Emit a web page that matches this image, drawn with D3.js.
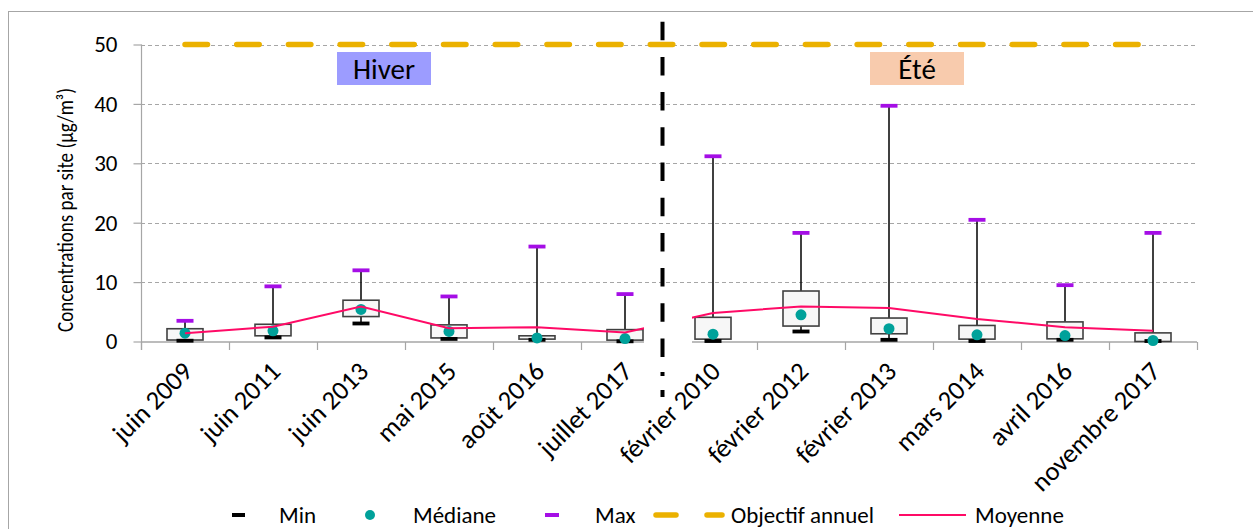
<!DOCTYPE html>
<html>
<head>
<meta charset="utf-8">
<script src="https://cdn.jsdelivr.net/npm/d3@7/dist/d3.min.js"></script>
<style>
  html, body { margin: 0; padding: 0; background: #fff; }
  svg { display: block; }
  text { font-family: Carlito, Calibri, Lato, sans-serif; fill: #000; }
</style>
</head>
<body>
<svg id="chart" width="1253" height="529"></svg>
<script>
const categories = ["juin 2009","juin 2011","juin 2013","mai 2015","août 2016","juillet 2017",
                    "février 2010","février 2012","février 2013","mars 2014","avril 2016","novembre 2017"];
const minValues    = [0.15, 0.7, 3.05, 0.45, 0.3, 0.05, 0.1, 1.7, 0.3, 0.1, 0.3, 0.1];
const q1Values     = [0.25, 0.96, 4.2, 0.6, 0.4, 0.23, 0.4, 2.6, 1.3, 0.4, 0.45, 0.0];
const medianValues = [1.4, 1.8, 5.4, 1.7, 0.6, 0.5, 1.24, 4.5, 2.15, 1.13, 1.0, 0.17];
const q3Values     = [2.15, 2.9, 6.95, 2.8, 0.96, 2.0, 4.07, 8.5, 3.95, 2.7, 3.3, 1.45];
const maxValues    = [3.5, 9.3, 12.0, 7.6, 16.0, 8.0, 31.2, 18.3, 39.7, 20.5, 9.5, 18.3];
const meanValues   = [1.4, 2.5, 5.9, 2.25, 2.4, 1.5, 4.8, 5.9, 5.65, 3.8, 2.4, 1.8];
const objectifValue = 50;
const yTicks = [0, 10, 20, 30, 40, 50];
const legendLabels = ["Min", "Médiane", "Max", "Objectif annuel", "Moyenne"];
const seasonLabels = ["Hiver", "Été"];

const C = {
  min: "#000000", median: "#00a19a", max: "#a50ee6", obj: "#ebb100", mean: "#ff0a66",
  grid: "#a6a6a6", axis: "#a6a6a6", boxStroke: "#404040", boxFill: "#f7f7f7",
  hiver: "#9c9cff", ete: "#f8cbad"
};

const svg = d3.select("#chart");

// outer frame
svg.append("rect").attr("x", 8.5).attr("y", 11.5).attr("width", 1400).attr("height", 700)
  .attr("fill", "none").attr("stroke", "#a6a6a6").attr("stroke-width", 1);

const x = d3.scaleBand().domain(categories).range([141, 1197]).padding(0);
const y = d3.scaleLinear().domain([0, 50]).range([341.5, 44.5]);
const cx = c => x(c) + x.bandwidth() / 2;

// gridlines
svg.append("g").selectAll("line").data(yTicks.filter(d => d > 0)).join("line")
  .attr("x1", 141).attr("x2", 1197)
  .attr("y1", d => Math.round(y(d)) + 0.5).attr("y2", d => Math.round(y(d)) + 0.5)
  .attr("stroke", C.grid).attr("stroke-width", 1.2).attr("stroke-dasharray", "4,3");

// y axis
const yAxis = d3.axisLeft(y).tickValues(yTicks).tickSize(8).tickPadding(16);
const gy = svg.append("g").attr("transform", "translate(141.5,0)").call(yAxis);
gy.select(".domain").remove();
gy.selectAll(".tick line").attr("stroke", C.axis).attr("stroke-width", 1.2);
gy.selectAll(".tick text").attr("font-size", 23).attr("fill", "#000")
  .style("font-family", "Carlito, Calibri, Lato, sans-serif");
svg.append("line").attr("x1", 141.5).attr("x2", 141.5).attr("y1", y(50)).attr("y2", 350)
  .attr("stroke", C.axis).attr("stroke-width", 1.2);

// x axis
svg.append("line").attr("x1", 141).attr("x2", 1197).attr("y1", 342).attr("y2", 342)
  .attr("stroke", C.axis).attr("stroke-width", 1.5);
const boundaries = categories.map(c => x(c)).concat([x(categories[categories.length - 1]) + x.bandwidth()]);
svg.append("g").selectAll("line").data(boundaries).join("line")
  .attr("x1", d => Math.round(d) + 0.5).attr("x2", d => Math.round(d) + 0.5)
  .attr("y1", 342).attr("y2", 350).attr("stroke", C.axis).attr("stroke-width", 1.2);

// x tick labels
svg.append("g").selectAll("text").data(categories).join("text")
  .attr("transform", d => `translate(${cx(d) + 9},${373}) rotate(-45)`)
  .attr("text-anchor", "end").attr("font-size", 26.5).text(d => d);

// y axis title
svg.append("text").attr("transform", "translate(73,210) rotate(-90)")
  .attr("text-anchor", "middle").attr("font-size", 22)
  .attr("textLength", 244).attr("lengthAdjust", "spacingAndGlyphs")
  .text("Concentrations par site (µg/m³)");

// objectif line
svg.append("path")
  .attr("d", d3.line()(categories.map(c => [cx(c), y(objectifValue)])))
  .attr("fill", "none").attr("stroke", C.obj).attr("stroke-width", 5.5)
  .attr("stroke-linecap", "round").attr("stroke-dasharray", "22.5,29.2");

// boxes
const bw = 36, mw = 17;
const g = svg.append("g");
categories.forEach((c, i) => {
  const xc = cx(c);
  g.append("line").attr("x1", xc).attr("x2", xc).attr("y1", y(q3Values[i])).attr("y2", y(maxValues[i]))
    .attr("stroke", "#000").attr("stroke-width", 1.5);
  g.append("line").attr("x1", xc).attr("x2", xc).attr("y1", y(q1Values[i])).attr("y2", y(minValues[i]))
    .attr("stroke", "#000").attr("stroke-width", 1.5);
  g.append("rect").attr("x", xc - bw / 2).attr("y", y(q3Values[i]))
    .attr("width", bw).attr("height", Math.max(1, y(q1Values[i]) - y(q3Values[i])))
    .attr("fill", C.boxFill).attr("stroke", C.boxStroke).attr("stroke-width", 1.6);
  g.append("rect").attr("x", xc - mw / 2).attr("y", y(minValues[i]) - 1.8)
    .attr("width", mw).attr("height", 3.8).attr("fill", C.min);
  g.append("rect").attr("x", xc - mw / 2).attr("y", y(maxValues[i]) - 1.8)
    .attr("width", mw).attr("height", 3.8).attr("fill", C.max);
  g.append("circle").attr("cx", xc).attr("cy", y(medianValues[i])).attr("r", 5.5)
    .attr("fill", C.median);
});

// moyenne line
svg.append("path")
  .attr("d", d3.line()(categories.map((c, i) => [cx(c), y(meanValues[i])])))
  .attr("fill", "none").attr("stroke", C.mean).attr("stroke-width", 2);

// white cover near divider
svg.append("rect").attr("x", 644).attr("y", 298).attr("width", 48).attr("height", 60).attr("fill", "#fff");

// divider
svg.append("line").attr("x1", 662.5).attr("x2", 662.5).attr("y1", 21.7).attr("y2", 357)
  .attr("stroke", "#000").attr("stroke-width", 4).attr("stroke-dasharray", "18.5,16.7");
svg.append("line").attr("x1", 662.5).attr("x2", 662.5).attr("y1", 372).attr("y2", 397)
  .attr("stroke", "#000").attr("stroke-width", 4).attr("stroke-dasharray", "4,14,7");

// season labels
const seasons = [{ label: seasonLabels[0], x: 337, fill: C.hiver }, { label: seasonLabels[1], x: 870, fill: C.ete }];
seasons.forEach(s => {
  svg.append("rect").attr("x", s.x).attr("y", 52).attr("width", 94).attr("height", 33).attr("fill", s.fill);
  svg.append("text").attr("x", s.x + 47).attr("y", 79).attr("text-anchor", "middle")
    .attr("font-size", 29).text(s.label);
});

// legend
const ly = 515;
const lg = svg.append("g");
lg.append("rect").attr("x", 232).attr("y", ly - 2).attr("width", 13).attr("height", 4).attr("fill", C.min);
lg.append("text").attr("x", 279).attr("y", ly + 8).attr("font-size", 23).text(legendLabels[0]);
lg.append("circle").attr("cx", 370).attr("cy", ly).attr("r", 5).attr("fill", C.median);
lg.append("text").attr("x", 413).attr("y", ly + 8).attr("font-size", 23).text(legendLabels[1]);
lg.append("rect").attr("x", 545).attr("y", ly - 2).attr("width", 14).attr("height", 4).attr("fill", C.max);
lg.append("text").attr("x", 595).attr("y", ly + 8).attr("font-size", 23).text(legendLabels[2]);
[[656, 676], [707, 722]].forEach(([a, b]) => {
  lg.append("line").attr("x1", a).attr("x2", b).attr("y1", ly).attr("y2", ly)
    .attr("stroke", C.obj).attr("stroke-width", 5.5).attr("stroke-linecap", "round");
});
lg.append("text").attr("x", 731).attr("y", ly + 8).attr("font-size", 23).text(legendLabels[3]);
lg.append("line").attr("x1", 899).attr("x2", 966).attr("y1", ly).attr("y2", ly)
  .attr("stroke", C.mean).attr("stroke-width", 2);
lg.append("text").attr("x", 975).attr("y", ly + 8).attr("font-size", 23).text(legendLabels[4]);
</script>
</body>
</html>
